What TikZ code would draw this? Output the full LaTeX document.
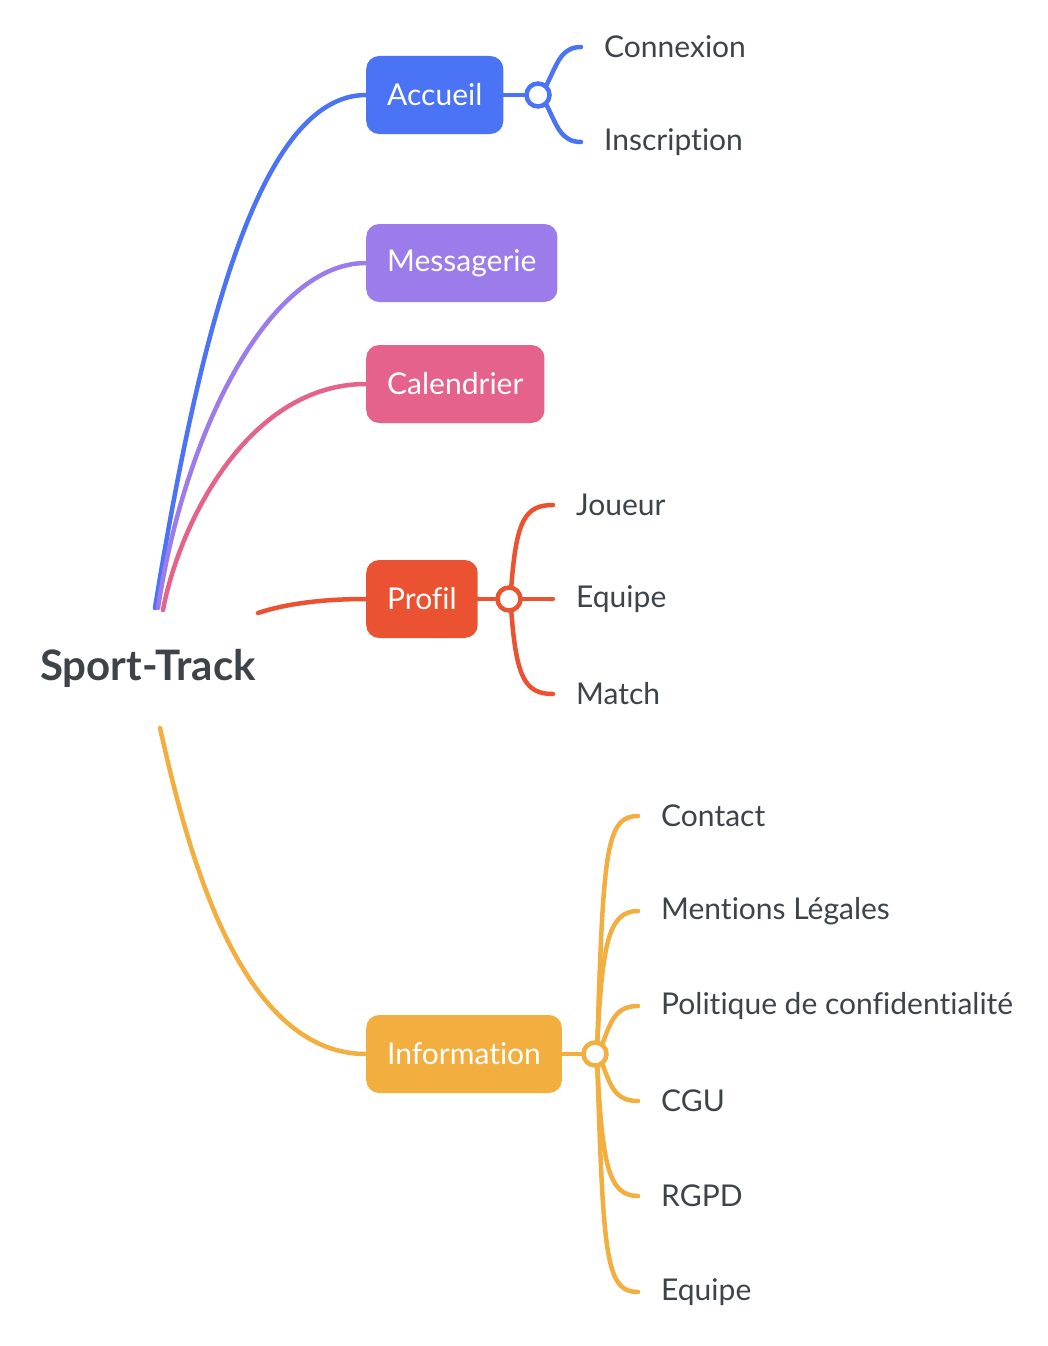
\documentclass[tikz,border=0pt]{standalone}
\usepackage{fontspec}
\setmainfont{Lato}[Ligatures={NoCommon}]
\definecolor{ink}{HTML}{3D4349}
\definecolor{cblue}{HTML}{4B73F5}
\definecolor{cpurple}{HTML}{9B7CEA}
\definecolor{cpink}{HTML}{E5628B}
\definecolor{cred}{HTML}{EB5231}
\definecolor{corange}{HTML}{F3AE40}
\begin{document}
\begin{tikzpicture}[x=1pt, y=-1pt,
    topic/.style={anchor=west, rounded corners=13pt, minimum height=78pt, inner xsep=21pt,
        text=white, font=\fontsize{30}{36}\selectfont},
    knot/.style={circle, draw, fill=white, line width=4.5pt, minimum size=23pt, inner sep=0pt},
    leaf/.style={anchor=west, inner xsep=23pt, text=ink, font=\fontsize{30}{36}\selectfont},
    branch/.style={line width=4.5pt, line cap=round}]
        \useasboundingbox (0, 0) rectangle (1048, 1346);

        \node[text=ink, font=\bfseries\fontsize{42}{48}\selectfont] (root) at (148, 668) {Sport-Track};
        \coordinate (r1) at (155, 608);
        \coordinate (r2) at (158, 608);
        \coordinate (r3) at (163, 610);
        \coordinate (r4) at (258, 613);
        \coordinate (r5) at (160, 728);

        \node[topic, fill=cblue] (accueil) at (366, 95) {Accueil};
        \node[topic, fill=cpurple] (messagerie) at (366, 263) {Messagerie};
        \node[topic, fill=cpink] (calendrier) at (366, 384) {Calendrier};
        \node[topic, fill=cred] (profil) at (366, 599) {Profil};
        \node[topic, fill=corange] (information) at (366, 1054) {Information};

        \node[knot, draw=cblue] (k1) at (538, 95) {};
        \node[knot, draw=cred] (k2) at (509, 599) {};
        \node[knot, draw=corange] (k3) at (595, 1054) {};

        \node[leaf] (connexion) at (581, 47) {Connexion};
        \node[leaf] (inscription) at (581, 142) {Inscription};

        \node[leaf] (joueur) at (553, 505) {Joueur};
        \node[leaf] (equipe) at (553, 599) {Equipe};
        \node[leaf] (match) at (553, 694) {Match};

        \node[leaf] (contact) at (638, 816) {Contact};
        \node[leaf] (mentions) at (638, 911) {Mentions Légales};
        \node[leaf] (politique) at (638, 1006) {Politique de confidentialité};
        \node[leaf] (cgu) at (638, 1101) {CGU};
        \node[leaf] (rgpd) at (638, 1196) {RGPD};
        \node[leaf] (equipe2) at (638, 1292) {Equipe};

        \draw[branch, cblue] (r1) .. controls +(45, -278) and +(-106, 0) .. (accueil.west);
        \draw[branch, cpurple] (r2) .. controls +(27, -178) and +(-96, 0) .. (messagerie.west);
        \draw[branch, cpink] (r3) .. controls +(17, -90) and +(-116, 0) .. (calendrier.west);
        \draw[branch, cred] (r4) .. controls +(30, -10) and +(-40, 0) .. (profil.west);
        \draw[branch, corange] (r5) .. controls +(25, 110) and +(-130, 0) .. (information.west);

        \draw[branch, cblue] (accueil.east) -- (k1);
        \draw[branch, cblue] (k1.50) .. controls +(10, -20) and +(-20, 0) .. (connexion.west);
        \draw[branch, cblue] (k1.-50) .. controls +(10, 20) and +(-20, 0) .. (inscription.west);

        \draw[branch, cred] (profil.east) -- (k2);
        \draw[branch, cred] (k2.80) .. controls +(5, -65) and +(-28, 0) .. (joueur.west);
        \draw[branch, cred] (k2) -- (equipe.west);
        \draw[branch, cred] (k2.-80) .. controls +(5, 65) and +(-28, 0) .. (match.west);

        \draw[branch, corange] (information.east) -- (k3);
        \draw[branch, corange] (k3.80) .. controls +(6, -190) and +(-32, 0) .. (contact.west);
        \draw[branch, corange] (k3.80) .. controls +(5, -95) and +(-30, 0) .. (mentions.west);
        \draw[branch, corange] (k3.55) .. controls +(8, -22) and +(-22, 0) .. (politique.west);
        \draw[branch, corange] (k3.-55) .. controls +(8, 22) and +(-22, 0) .. (cgu.west);
        \draw[branch, corange] (k3.-80) .. controls +(5, 95) and +(-30, 0) .. (rgpd.west);
        \draw[branch, corange] (k3.-80) .. controls +(6, 190) and +(-32, 0) .. (equipe2.west);
    \end{tikzpicture}
\end{document}
